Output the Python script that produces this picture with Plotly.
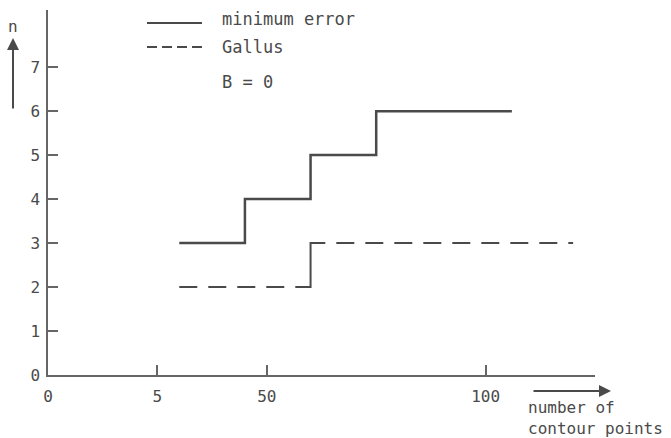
import plotly.graph_objects as go

# Data
min_error_x = [30, 45, 60, 75, 106]
min_error_y = [3, 4, 5, 6, 6]
gallus_x = [30, 60, 120]
gallus_y = [2, 3, 3]

x_tickvals = [0, 25, 50, 100]
x_ticktext = ["0", "5", "50", "100"]
y_tickvals = [0, 1, 2, 3, 4, 5, 6, 7]
y_ticktext = ["0", "1", "2", "3", "4", "5", "6", "7"]

INK = "#4a4a4a"
AX = "#666666"
FONT = "DejaVu Sans Mono"

W, H = 671, 438
L, R, T, B = 48, 76, 10, 63
pw, ph = W - L - R, H - T - B


def px(x):
    return (x - L) / pw


def py(y):
    return (H - B - y) / ph


# dash pattern for the Gallus line: regular dashes, with the vertical riser kept solid
gallus_dash = ",".join(["18px,11px"] * 4 + ["74px,11px"] + ["18px,11px"] * 12)

fig = go.Figure()
fig.add_trace(go.Scatter(x=min_error_x, y=min_error_y, mode="lines", line_shape="hv",
                         line=dict(color=INK, width=2.5), showlegend=False,
                         name="minimum error"))
fig.add_trace(go.Scatter(x=gallus_x, y=gallus_y, mode="lines", line_shape="hv",
                         line=dict(color=INK, width=2, dash=gallus_dash), showlegend=False,
                         name="Gallus"))

# legend samples
fig.add_shape(type="line", xref="paper", yref="paper", x0=px(147), x1=px(202),
              y0=py(23), y1=py(23), line=dict(color=INK, width=2))
fig.add_shape(type="line", xref="paper", yref="paper", x0=px(147), x1=px(202),
              y0=py(47), y1=py(47), line=dict(color=INK, width=2, dash="10px,5px"))

annos = [
    dict(text="minimum error", x=px(220), y=py(19)),
    dict(text="Gallus", x=px(220), y=py(47)),
    dict(text="B = 0", x=px(220), y=py(82)),
]
for a in annos:
    fig.add_annotation(xref="paper", yref="paper", showarrow=False, xanchor="left",
                       yanchor="middle", font=dict(family=FONT, size=17, color=INK), **a)

# y-axis label and arrow
fig.add_annotation(xref="paper", yref="paper", x=px(13), y=py(26), text="n", showarrow=False,
                   xanchor="center", yanchor="middle",
                   font=dict(family=FONT, size=16, color=INK))
fig.add_annotation(xref="paper", yref="paper", x=px(13), y=py(38), ax=0, ay=72, text="",
                   showarrow=True, arrowhead=2, arrowsize=1.2, arrowwidth=2, arrowcolor=INK)

# x-axis label and arrow
fig.add_annotation(xref="paper", yref="paper", x=px(611), y=py(391), ax=-79, ay=0, text="",
                   showarrow=True, arrowhead=2, arrowsize=1.2, arrowwidth=2, arrowcolor=INK)
fig.add_annotation(xref="paper", yref="paper", x=px(526), y=py(418),
                   text="number of<br>contour points", showarrow=False, xanchor="left",
                   yanchor="middle", align="left",
                   font=dict(family=FONT, size=16, color=INK))

fig.update_layout(
    width=W, height=H,
    margin=dict(l=L, r=R, t=T, b=B),
    paper_bgcolor="white", plot_bgcolor="white",
    font=dict(family=FONT, size=16, color=INK),
    xaxis=dict(range=[0, 125], tickvals=x_tickvals, ticktext=x_ticktext,
               showgrid=False, zeroline=False, showline=True, linecolor=AX, linewidth=1.5,
               ticks="inside", ticklen=10, tickwidth=1.5, tickcolor=AX,
               ticklabelstandoff=6),
    yaxis=dict(range=[0, 8.3], tickvals=y_tickvals, ticktext=y_ticktext,
               showgrid=False, zeroline=False, showline=True, linecolor=AX, linewidth=1.5,
               ticks="inside", ticklen=10, tickwidth=1.5, tickcolor=AX,
               ticklabelstandoff=3),
)

fig.write_html("out.html")
